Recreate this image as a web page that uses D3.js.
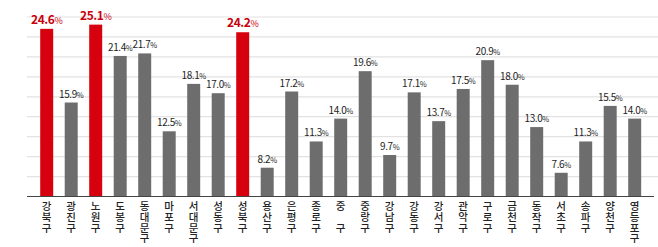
<!DOCTYPE html>
<html>
<head>
<meta charset="utf-8">
<script src="https://cdn.jsdelivr.net/npm/d3@7"></script>
<style>
  body { margin: 0; background: #fff; }
  text { font-family: "Noto Sans CJK KR", "Noto Sans", sans-serif; }
  .name { writing-mode: vertical-rl; text-orientation: upright; }
</style>
</head>
<body>
<div id="root"></div>
<script>
// districts, left to right
var districts = ["강북구", "광진구", "노원구", "도봉구", "동대문구", "마포구", "서대문구", "성동구",
  "성북구", "용산구", "은평구", "종로구", "중 구", "중랑구", "강남구", "강동구", "강서구",
  "관악구", "구로구", "금천구", "동작구", "서초구", "송파구", "양천구", "영등포구"];
// share, %
var rates = [24.6, 15.9, 25.1, 21.4, 21.7, 12.5, 18.1, 17.0, 24.2, 8.2, 17.2, 11.3, 14.0,
  19.6, 9.7, 17.1, 13.7, 17.5, 20.9, 18.0, 13.0, 7.6, 11.3, 15.5, 14.0];
// highlighted in red
var highlighted = ["강북구", "노원구", "성북구"];

var data = districts.map(function(d, i) { return {name: d, value: rates[i]}; });

var width = 658, height = 247;
var plotBottom = 196.5, plotTop = 17;

var svg = d3.select("#root").append("svg")
    .attr("width", width)
    .attr("height", height);

// set the ranges
var x = d3.scaleBand()
    .domain(districts)
    .range([28.7, 652.7])
    .padding(0.47);
var y = d3.scaleLinear()
    .domain([4.8, 26])
    .range([plotBottom, plotTop]);

function isRed(d) { return highlighted.indexOf(d.name) >= 0; }

// light grid lines
var grid = d3.range(1, 10).map(function(i) { return plotBottom - i * (plotBottom - plotTop) / 9; });
svg.selectAll(".grid").data(grid)
  .enter().append("line")
    .attr("class", "grid")
    .attr("x1", 27).attr("x2", 658)
    .attr("y1", function(d) { return d; })
    .attr("y2", function(d) { return d; })
    .attr("stroke", "#e2e2e2")
    .attr("stroke-width", 1.2);

// bars
svg.selectAll(".bar").data(data)
  .enter().append("rect")
    .attr("class", "bar")
    .attr("x", function(d) { return x(d.name); })
    .attr("width", x.bandwidth())
    .attr("y", function(d) { return y(d.value); })
    .attr("height", function(d) { return plotBottom - y(d.value); })
    .attr("fill", function(d) { return isRed(d) ? "#d6000e" : "#6d6d6d"; });

// baseline
svg.append("line")
    .attr("x1", 27).attr("x2", 654)
    .attr("y1", plotBottom).attr("y2", plotBottom)
    .attr("stroke", "#444")
    .attr("stroke-width", 1);

// value labels
var labels = svg.selectAll(".val").data(data)
  .enter().append("text")
    .attr("class", "val")
    .attr("x", function(d) { return x(d.name) + x.bandwidth() / 2; })
    .attr("y", function(d) { return y(d.value) - 5; })
    .attr("text-anchor", "middle")
    .attr("letter-spacing", -0.4)
    .attr("fill", function(d) { return isRed(d) ? "#c8000c" : "#1e1e1e"; })
    .attr("font-weight", function(d) { return isRed(d) ? 700 : 400; })
    .attr("font-size", function(d) { return isRed(d) ? 12 : 10; });
labels.append("tspan").text(function(d) { return d.value.toFixed(1); });
labels.append("tspan")
    .attr("font-size", function(d) { return isRed(d) ? 9 : 7.5; })
    .attr("font-weight", 400)
    .text("%");

// vertical district names, written top to bottom
svg.selectAll(".name").data(data)
  .enter().append("text")
    .attr("class", "name")
    .attr("x", function(d) { return x(d.name) + x.bandwidth() / 2; })
    .attr("y", 201)
    .attr("font-size", 10.5)
    .attr("font-weight", 500)
    .attr("fill", "#222")
    .attr("letter-spacing", 0.2)
    .text(function(d) { return d.name.replace(" ", "\u3000"); });
</script>
</body>
</html>
